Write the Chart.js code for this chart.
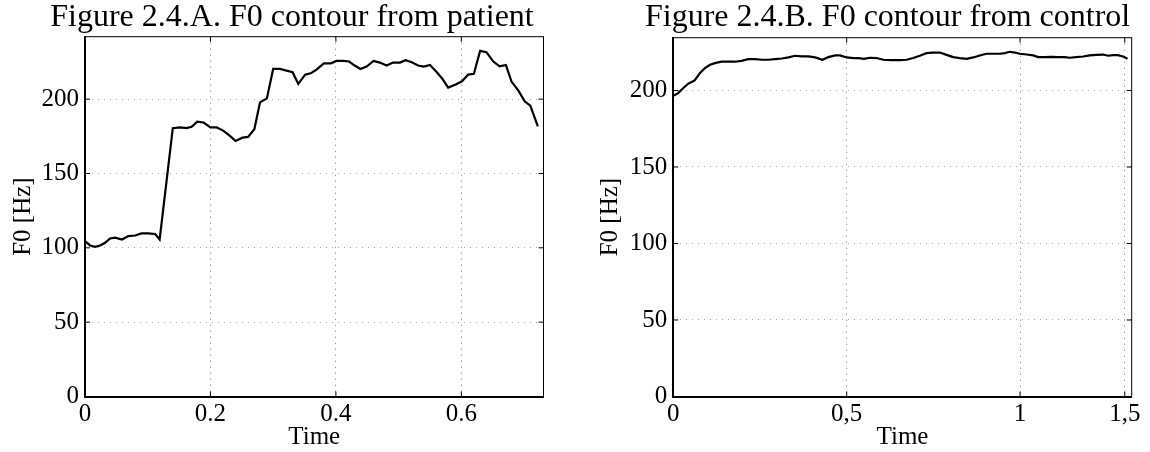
<!DOCTYPE html>
<html>
<head>
<meta charset="utf-8">
<script src="https://cdn.jsdelivr.net/npm/chart.js@4.4.0/dist/chart.umd.min.js"></script>
<style>
  body { margin: 0; background: #fff; }
  #wrap { position: relative; width: 1150px; height: 452px; }
  canvas { position: absolute; top: 0; }
</style>
</head>
<body>
<div id="wrap">
  <canvas id="patientChart" width="575" height="452" style="left:0"></canvas>
  <canvas id="controlChart" width="575" height="452" style="left:575px"></canvas>
</div>
<script>
// Figure 2.4.A - patient F0 contour (time in s, F0 in Hz)
const patientTime = [0, 0.008, 0.016, 0.024, 0.032, 0.040, 0.048, 0.059, 0.069, 0.080, 0.090, 0.101, 0.112, 0.119,
  0.140, 0.151, 0.162, 0.170, 0.179, 0.189, 0.200, 0.210, 0.221, 0.231, 0.240, 0.251, 0.260, 0.270, 0.279, 0.290,
  0.300, 0.311, 0.321, 0.331, 0.340, 0.351, 0.361, 0.369, 0.381, 0.392, 0.401, 0.412, 0.421, 0.430, 0.439, 0.449,
  0.460, 0.470, 0.481, 0.491, 0.502, 0.511, 0.521, 0.531, 0.540, 0.550, 0.561, 0.570, 0.579, 0.591, 0.601, 0.611,
  0.620, 0.630, 0.640, 0.651, 0.661, 0.671, 0.680, 0.691, 0.701, 0.710, 0.722];
const patientF0 = [104.5, 101.6, 100.7, 101.6, 103.4, 106.3, 106.8, 105.6, 107.9, 108.3, 109.7, 109.7, 109.2, 105.6,
  180.5, 181, 180.5, 181.4, 184.8, 184.3, 181, 181, 178.7, 175.3, 171.9, 174.1, 174.6, 179.8, 197.8, 200.5,
  220.3, 220.3, 219.2, 218.1, 210.2, 216.5, 217.6, 219.9, 224.1, 224.1, 225.7, 225.7, 225.3, 222.6, 220.3, 221.9,
  225.7, 224.6, 222.6, 224.6, 224.6, 226.2, 224.8, 222.6, 221.9, 223.0, 218.1, 213.6, 207.8, 209.8, 212.0, 216.5,
  217.0, 232.5, 231.6, 225.3, 222.1, 223.0, 211.8, 205.7, 198.5, 195.6, 181.7];

// Figure 2.4.B - control F0 contour
const controlTime = [0, 0.014, 0.029, 0.043, 0.061, 0.077, 0.091, 0.106, 0.120, 0.139, 0.159, 0.178, 0.197, 0.216,
  0.236, 0.255, 0.274, 0.293, 0.313, 0.332, 0.351, 0.370, 0.390, 0.409, 0.430, 0.447, 0.467, 0.481, 0.500, 0.519,
  0.534, 0.550, 0.567, 0.586, 0.606, 0.630, 0.653, 0.673, 0.692, 0.711, 0.730, 0.749, 0.769, 0.788, 0.807, 0.826,
  0.846, 0.865, 0.884, 0.903, 0.922, 0.942, 0.956, 0.970, 0.985, 0.999, 1.019, 1.038, 1.052, 1.071, 1.090, 1.110,
  1.129, 1.143, 1.162, 1.182, 1.201, 1.220, 1.239, 1.254, 1.268, 1.282, 1.297, 1.310];
const controlF0 = [196.5, 198.3, 201.6, 204.4, 206.5, 211.4, 214.6, 216.8, 217.9, 218.8, 218.8, 218.8, 219.4, 220.5,
  220.5, 220.1, 220.1, 220.5, 220.9, 221.6, 222.7, 222.3, 222.3, 221.6, 220.1, 221.8, 222.9, 222.9, 221.6, 221.2,
  221.2, 220.7, 221.4, 221.2, 220.1, 219.9, 219.9, 220.1, 221.2, 222.7, 224.4, 224.8, 224.8, 223.3, 221.8, 221.2,
  220.7, 221.6, 222.9, 224.0, 224.0, 224.0, 224.4, 225.3, 224.8, 224.0, 223.5, 222.9, 221.8, 221.8, 222.0, 221.8,
  221.8, 221.4, 221.8, 222.2, 222.9, 223.3, 223.5, 222.7, 223.1, 223.1, 222.2, 220.7];

// axis ticks
const patientXTicks = [0, 0.2, 0.4, 0.6];
const patientXLabels = ["0", "0.2", "0.4", "0.6"];
const controlXTicks = [0, 0.5, 1, 1.302];
const controlXLabels = ["0", "0,5", "1", "1,5"];
const yTicks = [0, 50, 100, 150, 200];
const yLabels = ["0", "50", "100", "150", "200"];

const serif = "'Liberation Serif', 'Times New Roman', serif";
const labelFont = { family: serif, size: 25 };

// title drawn above the plot box
const figureTitle = {
  id: "figureTitle",
  afterDraw(chart, args, opts) {
    const ctx = chart.ctx;
    ctx.save();
    ctx.font = "32px " + serif;
    ctx.fillStyle = "#000";
    ctx.textAlign = "center";
    ctx.textBaseline = "alphabetic";
    ctx.fillText(opts.text, opts.x, opts.y);
    ctx.restore();
  },
};

// closed box with inward tick marks, like matlab
const matlabBox = {
  id: "matlabBox",
  afterDatasetsDraw(chart) {
    const { ctx, chartArea: a, scales: { x, y } } = chart;
    ctx.save();
    ctx.strokeStyle = "#000";
    ctx.lineWidth = 1;
    ctx.beginPath();
    x.ticks.forEach((t) => {
      const px = x.getPixelForValue(t.value);
      ctx.moveTo(px, a.bottom); ctx.lineTo(px, a.bottom - 5);
      ctx.moveTo(px, a.top); ctx.lineTo(px, a.top + 5);
    });
    y.ticks.forEach((t) => {
      const py = y.getPixelForValue(t.value);
      ctx.moveTo(a.left, py); ctx.lineTo(a.left + 5, py);
      ctx.moveTo(a.right, py); ctx.lineTo(a.right - 5, py);
    });
    ctx.stroke();
    ctx.strokeRect(a.left, a.top, a.width, a.height);
    ctx.restore();
  },
};

function makeF0Chart(id, times, values, cfg) {
  const ctx = document.getElementById(id).getContext("2d");
  return new Chart(ctx, {
    type: "line",
    data: {
      datasets: [
        {
          data: times.map((t, i) => ({ x: t, y: values[i] })),
          borderColor: "#000",
          borderWidth: 2.2,
          pointRadius: 0,
          tension: 0,
          fill: false,
        },
      ],
    },
    options: {
      responsive: false,
      animation: false,
      devicePixelRatio: 1,
      layout: { padding: { left: 0, right: cfg.padRight, top: cfg.padTop, bottom: 0 } },
      plugins: {
        legend: { display: false },
        tooltip: { enabled: false },
        figureTitle: { text: cfg.title, x: cfg.titleX, y: 26 },
      },
      scales: {
        x: {
          type: "linear",
          min: 0,
          max: cfg.xMax,
          afterBuildTicks: (s) => { s.ticks = cfg.xTicks.map((v) => ({ value: v })); },
          afterFit: (s) => { s.height = 55.5; },
          ticks: {
            callback: (v, i) => cfg.xLabels[i],
            autoSkip: false,
            maxRotation: 0,
            padding: 3,
            color: "#000",
            font: labelFont,
          },
          grid: { color: "#777", lineWidth: 1, drawTicks: false },
          border: { color: "#000", width: 2, dash: [1, 5] },
          title: { display: true, text: "Time", color: "#000", font: labelFont, padding: { top: 0, bottom: 0 } },
        },
        y: {
          min: 0,
          max: cfg.yMax,
          afterBuildTicks: (s) => { s.ticks = yTicks.map((v) => ({ value: v })); },
          afterFit: (s) => { s.width = cfg.yWidth; },
          ticks: {
            callback: (v, i) => yLabels[i],
            autoSkip: false,
            padding: 6,
            color: "#000",
            font: labelFont,
          },
          grid: { color: "#aaa", lineWidth: 1, drawTicks: false },
          border: { color: "#000", width: 2, dash: [1, 5] },
          title: { display: true, text: "F0 [Hz]", color: "#000", font: labelFont, padding: { top: cfg.yTitlePad, bottom: 0 } },
        },
      },
    },
    plugins: [matlabBox, figureTitle],
  });
}

makeF0Chart("patientChart", patientTime, patientF0, {
  title: "Figure 2.4.A. F0 contour from patient",
  titleX: 292,
  xTicks: patientXTicks,
  xLabels: patientXLabels,
  xMax: 0.731,
  yMax: 242,
  yWidth: 85,
  yTitlePad: 8,
  padRight: 31.5,
  padTop: 36.7,
});

makeF0Chart("controlChart", controlTime, controlF0, {
  title: "Figure 2.4.B. F0 contour from control",
  titleX: 312.6,
  xTicks: controlXTicks,
  xLabels: controlXLabels,
  xMax: 1.322,
  yMax: 234.5,
  yWidth: 98.3,
  yTitlePad: 20,
  padRight: 18.3,
  padTop: 37.7,
});
</script>
</body>
</html>
